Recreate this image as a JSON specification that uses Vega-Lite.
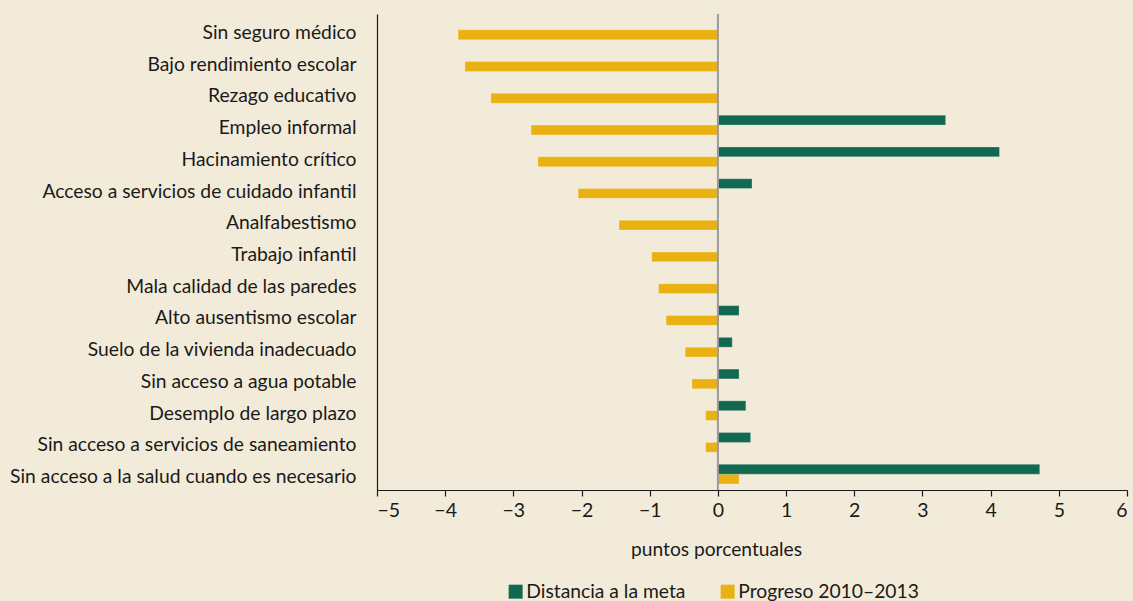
{
  "$schema": "https://vega.github.io/schema/vega-lite/v6.json",
  "autosize": "none",
  "width": 750,
  "height": 476,
  "padding": {"left": 377, "top": 14, "right": 6, "bottom": 111},
  "background": "#f3ebd9",
  "config": {
    "font": "Lato",
    "view": {"stroke": null},
    "axis": {"labelFont": "Lato", "titleFont": "Lato", "labelColor": "#1a1a1a", "titleColor": "#1a1a1a", "grid": false}
  },
  "datasets": {
    "bars": [
      {"indicador": "Sin seguro médico", "serie": "Progreso 2010–2013", "valor": -3.81},
      {"indicador": "Bajo rendimiento escolar", "serie": "Progreso 2010–2013", "valor": -3.71},
      {"indicador": "Rezago educativo", "serie": "Progreso 2010–2013", "valor": -3.33},
      {"indicador": "Empleo informal", "serie": "Progreso 2010–2013", "valor": -2.74},
      {"indicador": "Hacinamiento crítico", "serie": "Progreso 2010–2013", "valor": -2.64},
      {"indicador": "Acceso a servicios de cuidado infantil", "serie": "Progreso 2010–2013", "valor": -2.05},
      {"indicador": "Analfabestismo", "serie": "Progreso 2010–2013", "valor": -1.45},
      {"indicador": "Trabajo infantil", "serie": "Progreso 2010–2013", "valor": -0.97},
      {"indicador": "Mala calidad de las paredes", "serie": "Progreso 2010–2013", "valor": -0.87},
      {"indicador": "Alto ausentismo escolar", "serie": "Progreso 2010–2013", "valor": -0.76},
      {"indicador": "Suelo de la vivienda inadecuado", "serie": "Progreso 2010–2013", "valor": -0.48},
      {"indicador": "Sin acceso a agua potable", "serie": "Progreso 2010–2013", "valor": -0.38},
      {"indicador": "Desemplo de largo plazo", "serie": "Progreso 2010–2013", "valor": -0.18},
      {"indicador": "Sin acceso a servicios de saneamiento", "serie": "Progreso 2010–2013", "valor": -0.18},
      {"indicador": "Sin acceso a la salud cuando es necesario", "serie": "Progreso 2010–2013", "valor": 0.31},
      {"indicador": "Empleo informal", "serie": "Distancia a la meta", "valor": 3.34},
      {"indicador": "Hacinamiento crítico", "serie": "Distancia a la meta", "valor": 4.13},
      {"indicador": "Acceso a servicios de cuidado infantil", "serie": "Distancia a la meta", "valor": 0.5},
      {"indicador": "Alto ausentismo escolar", "serie": "Distancia a la meta", "valor": 0.31},
      {"indicador": "Suelo de la vivienda inadecuado", "serie": "Distancia a la meta", "valor": 0.21},
      {"indicador": "Sin acceso a agua potable", "serie": "Distancia a la meta", "valor": 0.31},
      {"indicador": "Desemplo de largo plazo", "serie": "Distancia a la meta", "valor": 0.41},
      {"indicador": "Sin acceso a servicios de saneamiento", "serie": "Distancia a la meta", "valor": 0.48},
      {"indicador": "Sin acceso a la salud cuando es necesario", "serie": "Distancia a la meta", "valor": 4.72}
    ],
    "zero": [{"cero": 0}]
  },
  "layer": [
    {
      "data": {"name": "bars"},
      "mark": {"type": "bar", "stroke": "#ffffff", "strokeOpacity": 0.3, "strokeWidth": 0.8},
      "encoding": {
        "y": {
          "field": "indicador",
          "type": "nominal",
          "sort": ["Sin seguro médico", "Bajo rendimiento escolar", "Rezago educativo", "Empleo informal", "Hacinamiento crítico", "Acceso a servicios de cuidado infantil", "Analfabestismo", "Trabajo infantil", "Mala calidad de las paredes", "Alto ausentismo escolar", "Suelo de la vivienda inadecuado", "Sin acceso a agua potable", "Desemplo de largo plazo", "Sin acceso a servicios de saneamiento", "Sin acceso a la salud cuando es necesario"],
          "scale": {"paddingInner": 0.38, "paddingOuter": 0.19},
          "axis": {"title": null, "ticks": false, "tickSize": 0, "labelPadding": 21, "labelFontSize": 19.3, "labelOffset": 3, "domainColor": "#1a1a1a", "domainWidth": 1.2, "labelLimit": 500}
        },
        "yOffset": {"field": "serie", "type": "nominal", "scale": {"paddingInner": 0, "paddingOuter": 0}},
        "x": {
          "field": "valor",
          "type": "quantitative",
          "scale": {"domain": [-5, 6], "nice": false},
          "axis": {"values": [-5, -4, -3, -2, -1, 0, 1, 2, 3, 4, 5, 6], "format": "d", "tickSize": 6, "tickColor": "#1a1a1a", "tickWidth": 1.2, "domainColor": "#1a1a1a", "domainWidth": 1.2, "labelFontSize": 19.5, "labelPadding": 5, "title": "puntos porcentuales", "titleFontSize": 19.2, "titleFontWeight": "normal", "titleX": 339, "titleY": 59, "titleBaseline": "middle", "titleAnchor": null, "titleAlign": "center"}
        },
        "color": {
          "field": "serie",
          "type": "nominal",
          "scale": {"domain": ["Distancia a la meta", "Progreso 2010–2013"], "range": ["#136950", "#e9b111"]},
          "legend": {"title": null, "orient": "none", "legendX": 129, "legendY": 568, "direction": "horizontal", "symbolType": "square", "symbolSize": 196, "symbolStrokeWidth": 0, "labelFontSize": 19.3, "labelFont": "Lato", "labelColor": "#1a1a1a", "columnPadding": 32, "labelOffset": 1, "labelLimit": 400}
        }
      }
    },
    {
      "data": {"name": "zero"},
      "mark": {"type": "rule", "color": "#9a9a9a", "strokeWidth": 2},
      "encoding": {"x": {"field": "cero", "type": "quantitative"}}
    }
  ]
}
